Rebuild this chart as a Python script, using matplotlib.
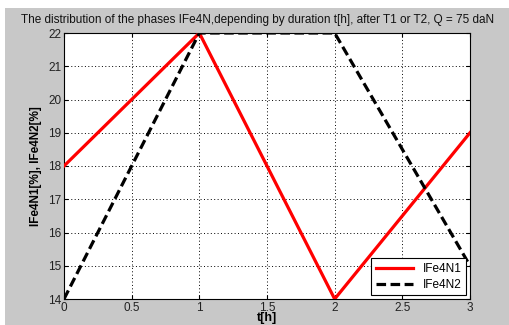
import matplotlib
matplotlib.use("Agg")
import matplotlib.pyplot as plt
from matplotlib.patches import Rectangle

# --- data ---
t = [0, 1, 2, 3]
fe4n1 = [18, 22, 14, 19]
fe4n2 = [14, 22, 22, 15]
xticks = [0, 0.5, 1, 1.5, 2, 2.5, 3]
yticks = [14, 15, 16, 17, 18, 19, 20, 21, 22]

plt.rcParams['font.family'] = ['Liberation Sans', 'DejaVu Sans']

fig = plt.figure(figsize=(5.09, 3.25), dpi=100, facecolor='white')
# gray matlab-like figure area (white strip at top and left)
bg = Rectangle((5 / 509, 0), 1, 317 / 325, transform=fig.transFigure,
               facecolor='#c8c8c8', edgecolor='none', zorder=-10)
fig.add_artist(bg)

ax = fig.add_axes([64 / 509, 26 / 325, 406 / 509, 266 / 325])
ax.set_facecolor('white')

ax.plot(t, fe4n1, color='red', linewidth=2.3, label='IFe4N1', zorder=3)
ax.plot(t, fe4n2, color='black', linewidth=2.3, linestyle=(0, (3, 1.4)), label='IFe4N2', zorder=3)

ax.set_xlim(0, 3)
ax.set_ylim(14, 22)
ax.set_xticks(xticks)
ax.set_xticklabels(['0', '0.5', '1', '1.5', '2', '2.5', '3'])
ax.set_yticks(yticks)
ax.grid(True, color='black', linestyle=(0, (1, 2.5)), linewidth=0.7)
ax.tick_params(direction='in', top=True, right=True, length=3, labelsize=8.5,
               labelcolor='#222222', pad=2)
for s in ax.spines.values():
    s.set_linewidth(0.8)

ax.set_xlabel('t[h]', fontsize=9, fontweight='bold', labelpad=-1)
ax.set_ylabel('IFe4N1[%], IFe4N2[%]', fontsize=8.5, fontweight='bold', labelpad=4)

fig.text(21 / 509, 1 - 20 / 325, 'The distribution of the phases IFe4N,depending by duration t[h], after T1 or T2, Q = 75 daN',
         fontsize=8.45, ha='left', va='center', color='#111111')

leg = ax.legend(loc='lower right', fontsize=8.5, frameon=True, fancybox=False,
                edgecolor='black', framealpha=1, handlelength=3.2,
                borderaxespad=0.3, labelspacing=0.3, borderpad=0.4)
leg.get_frame().set_linewidth(0.8)
leg.set_zorder(5)

fig.savefig('out.png', dpi=100, facecolor=fig.get_facecolor())
